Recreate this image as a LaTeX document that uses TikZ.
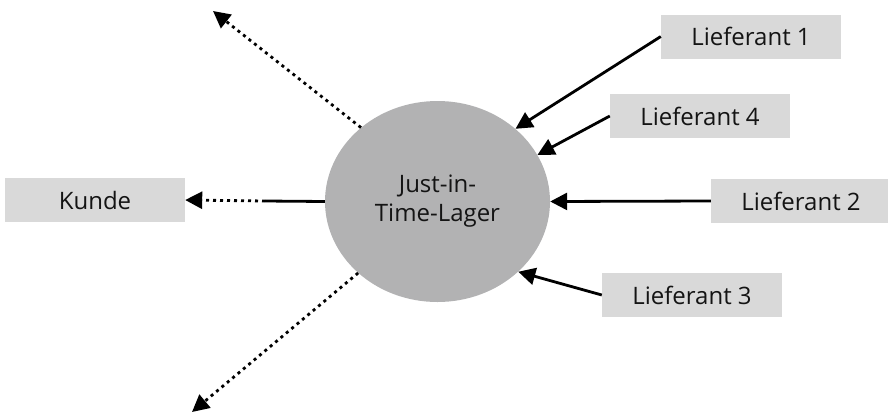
\documentclass[tikz,border=0pt]{standalone}
\usepackage{fontspec}
\setmainfont{Open Sans}
\usetikzlibrary{arrows.meta,shapes.geometric}
\definecolor{boxgray}{HTML}{D9D9D9}
\definecolor{hubgray}{HTML}{B2B2B3}
\begin{document}
\begin{tikzpicture}[x=1pt,y=-1pt,
  every node/.style={font=\fontsize{24}{29}\selectfont, text=black!92},
  party/.style={fill=boxgray, minimum width=180pt, minimum height=44pt, inner sep=0pt},
  hub/.style={ellipse, fill=hubgray, minimum width=225pt, minimum height=201pt, inner sep=0pt, align=center},
  flow/.style={line width=2.8pt, -{Triangle[length=17pt,width=17pt]}},
  dotflow/.style={line width=2.8pt, dash pattern=on 3pt off 4pt, -{Triangle[length=17pt,width=17pt]}},
  solidpart/.style={line width=2.8pt}
]
\useasboundingbox (0,0) rectangle (888,413);

% central warehouse
\node[hub] (jit) at (437.5,201.5) {Just-in-\\Time-Lager};

% customer and suppliers
\node[party] (kunde) at (95,200) {Kunde};
\node[party] (l1) at (751,36.5) {Lieferant 1};
\node[party] (l4) at (700,116) {Lieferant 4};
\node[party] (l2) at (801,201) {Lieferant 2};
\node[party] (l3) at (692,295) {Lieferant 3};

% free ends of the outgoing dotted arrows
\coordinate (up) at (213,11);
\coordinate (down) at (192,412);
\coordinate (kmid) at (265,201);

% deliveries into the warehouse
\draw[flow] (l1.west) -- (jit.43);
\draw[flow] (l4.west) -- (jit.25.5);
\draw[flow] (l2.west) -- (jit.east);
\draw[flow] (l3.west) -- (jit.-41.6);

% outgoing flows
\draw[solidpart] (jit.west) -- (kmid);
\draw[dotflow] (kmid) -- (kunde.east);
\draw[dotflow] (jit.136) -- (up);
\draw[dotflow] (jit.222) -- (down);
\end{tikzpicture}
\end{document}
